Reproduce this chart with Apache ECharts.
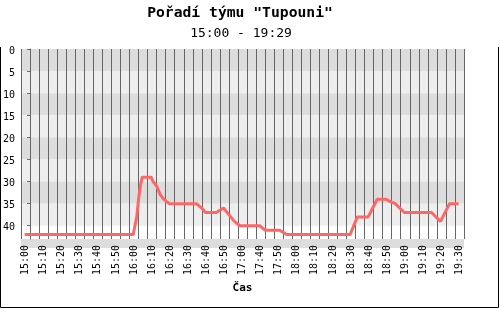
<!DOCTYPE html>
<html><head><meta charset="utf-8">
<script src="https://cdn.jsdelivr.net/npm/echarts@6/dist/echarts.min.js"></script>
<style>html,body{margin:0;padding:0;background:#fff}#c{width:500px;height:309px}</style>
</head><body><div id="c"></div>
<script>
// x axis tick labels (every 10th slot; data gap between 17:00 and 17:40)
const tickLabels = ['15:00','15:10','15:20','15:30','15:40','15:50','16:00','16:10','16:20','16:30','16:40','16:50','17:00','17:40','17:50','18:00','18:10','18:20','18:30','18:40','18:50','19:00','19:10','19:20','19:30'];
const tickSlots = [0,10,20,30,40,50,60,70,80,90,100,110,120,130,140,150,160,170,180,190,200,210,220,230,240];
const yTicks = [0,5,10,15,20,25,30,35,40];
// team rank (slot index, rank)
const rankSlot = [-3,57,58,59,60,61,62,67,68,70,72,74,77,92,95,97,103,105,107,108,109,111,113,116,127,130,138,142,177,181,187,192,197,199,202,207,222,227,232,237];
const rankValue = [42,42,40,38,34,31,29,29,30,31,33,34,35,35,36,37,37,36.5,36,36.5,37,38,39,40,40,41,41,42,42,38,38,34,34,34.5,35,37,37,39,35,35];

const mono = 'DejaVu Sans Mono';
const chart = echarts.init(document.getElementById('c'), null, {renderer:'canvas'});
chart.setOption({
  animation: false,
  backgroundColor: '#ffffff',
  title: [
    {text: 'Pořadí týmu "Tupouni"', left: 240, top: 6, textAlign: 'center', padding: 0,
     textStyle: {fontFamily: mono, fontSize: 14.7, fontWeight: 'bold', color: '#000'}},
    {text: '15:00 - 19:29', left: 241, top: 27.5, textAlign: 'center', padding: 0,
     textStyle: {fontFamily: mono, fontSize: 13, fontWeight: 'normal', color: '#000'}}
  ],
  grid: {left: 20, top: 49, width: 444, height: 190, containLabel: false},
  xAxis: {
    type: 'value', min: -5, max: 240, interval: 5,
    axisLine: {show: false}, axisTick: {show: false},
    splitLine: {show: true, lineStyle: {color: '#666666', width: 1}},
    axisLabel: {customValues: tickSlots, rotate: 90, margin: 6,
      verticalAlign: 'bottom', lineHeight: 9,
      fontFamily: mono, fontSize: 10, color: '#000',
      formatter: v => tickLabels[Math.round(v/10)]},
    name: 'Čas', nameLocation: 'middle', nameGap: 41,
    nameTextStyle: {fontFamily: mono, fontSize: 11, fontWeight: 'bold', color: '#000'}
  },
  yAxis: {
    type: 'value', inverse: true, min: 0, max: 43, interval: 5,
    axisLine: {show: true, lineStyle: {color: '#666666', width: 1}},
    axisTick: {show: true, customValues: yTicks, length: 3, lineStyle: {color: '#666666'}},
    axisLabel: {customValues: yTicks, margin: 6, verticalAlign: 'top', lineHeight: 4,
      fontFamily: mono, fontSize: 10, color: '#000'},
    splitLine: {show: false},
    splitArea: {show: true, areaStyle: {color: ['#dddddd','#eeeeee']}}
  },
  series: [{
    type: 'line', showSymbol: false, symbol: 'none',
    data: rankSlot.map((s, i) => [s, rankValue[i]]),
    lineStyle: {color: '#ff6666', width: 3}
  }],
  graphic: [
    {type: 'rect', z: -1, shape: {x: 21, y: 239, width: 443, height: 9}, style: {fill: '#dddddd'}},
    {type: 'polyline', shape: {points: [[0.5,47],[0.5,307.5],[498.5,307.5],[498.5,47]]}, style: {stroke: '#000', lineWidth: 1, fill: null}}
  ]
});
</script></body></html>
